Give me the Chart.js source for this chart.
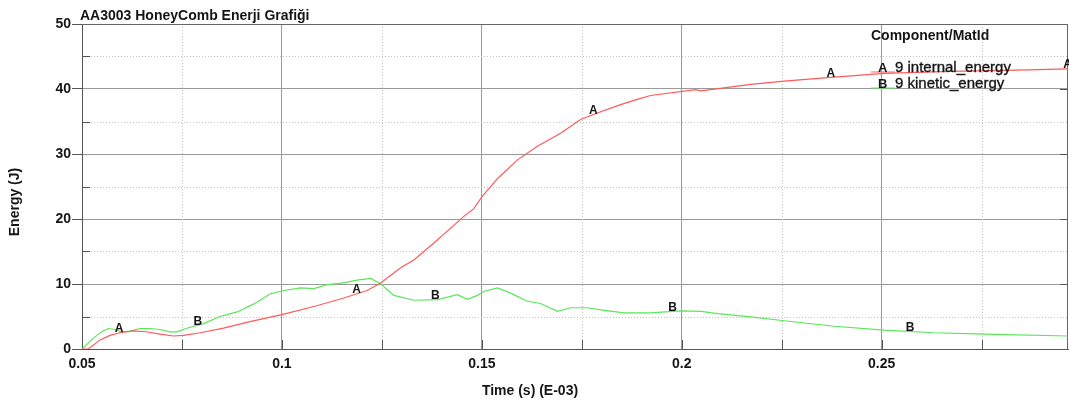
<!DOCTYPE html>
<html><head><meta charset="utf-8">
<script src="https://cdn.jsdelivr.net/npm/chart.js@4/dist/chart.umd.min.js"></script>
<style>html,body{margin:0;padding:0;background:#fff;overflow:hidden;}</style>
</head><body>
<canvas id="c" width="1069" height="401"></canvas>
<script>
// ---------- data ----------
const TITLE = "AA3003 HoneyComb Enerji Grafiği";
const X_TITLE = "Time (s) (E-03)";
const Y_TITLE = "Energy (J)";
const LEGEND_HEADER = "Component/MatId";
const SERIES_NAMES = ["9 internal_energy", "9 kinetic_energy"];
const SERIES_LETTERS = ["A", "B"];

const X_TICKS = [0.05, 0.1, 0.15, 0.2, 0.25];
const X_MINOR = [0.075, 0.125, 0.175, 0.225, 0.275];
const Y_TICKS = [0, 10, 20, 30, 40, 50];
const Y_MINOR = [5, 15, 25, 35, 45];

const INTERNAL_X = [0.05, 0.0516, 0.0545, 0.057, 0.0595, 0.0629, 0.066, 0.0695, 0.0729, 0.0754, 0.0796, 0.0854, 0.092, 0.1, 0.1087, 0.1155, 0.1213, 0.1247, 0.1297, 0.133, 0.138, 0.1422, 0.1455, 0.148, 0.1501, 0.1539, 0.1589, 0.1639, 0.1697, 0.1747, 0.1789, 0.1847, 0.1889, 0.1922, 0.2035, 0.2048, 0.2173, 0.2256, 0.2373, 0.2506, 0.2673, 0.284, 0.2966];
const INTERNAL_Y = [0, 0, 1.4, 2.1, 2.5, 2.8, 2.65, 2.3, 2.0, 2.1, 2.5, 3.2, 4.2, 5.3, 6.65, 7.85, 9.0, 10.15, 12.5, 13.7, 16.3, 18.6, 20.4, 21.6, 23.5, 26.2, 29.1, 31.2, 33.2, 35.3, 36.3, 37.6, 38.4, 39.0, 39.9, 39.7, 40.7, 41.2, 41.8, 42.4, 42.7, 42.9, 43.1];

const KINETIC_X = [0.05, 0.0524, 0.0537, 0.0553, 0.0566, 0.0583, 0.0599, 0.062, 0.0645, 0.067, 0.0695, 0.072, 0.0737, 0.076, 0.0804, 0.0845, 0.0888, 0.0929, 0.0971, 0.1005, 0.1046, 0.108, 0.1113, 0.1146, 0.1188, 0.1222, 0.1247, 0.128, 0.133, 0.1389, 0.1439, 0.1464, 0.1489, 0.1505, 0.1539, 0.1572, 0.1614, 0.1647, 0.1689, 0.1722, 0.1764, 0.1806, 0.1856, 0.1922, 0.1997, 0.2048, 0.209, 0.2173, 0.2256, 0.2382, 0.2506, 0.2631, 0.2757, 0.2966];
const KINETIC_Y = [0, 1.4, 2.1, 2.8, 3.15, 3.0, 2.65, 2.75, 3.15, 3.15, 3.0, 2.65, 2.65, 3.15, 3.9, 5.0, 5.7, 6.9, 8.5, 9.0, 9.4, 9.3, 9.9, 10.1, 10.6, 10.85, 10.0, 8.25, 7.5, 7.6, 8.35, 7.65, 8.25, 8.85, 9.4, 8.6, 7.35, 7.0, 5.8, 6.35, 6.35, 5.95, 5.55, 5.55, 5.85, 5.8, 5.45, 4.95, 4.35, 3.5, 2.9, 2.5, 2.3, 2.0];

const LABEL_X_A = [0.0593, 0.1187, 0.1779, 0.2373, 0.2965];
const LABEL_X_B = [0.079, 0.1384, 0.1977, 0.2571];

// ---------- style ----------
const COLORS = ["#ff5a5a", "#5ae65a"];
const FONT = '"Liberation Sans", Arial, sans-serif';
const TEXT = "#151515";

function pts(xs, ys) { return xs.map((x, i) => ({ x: x, y: ys[i] })); }
function interp(xs, ys, x) {
  for (let i = 1; i < xs.length; i++) {
    if (x <= xs[i]) { const t = (x - xs[i-1]) / (xs[i] - xs[i-1]); return ys[i-1] + t * (ys[i] - ys[i-1]); }
  }
  return ys[ys.length - 1];
}
function fmt(v) { return String(parseFloat(v.toFixed(4))); }

const deco = {
  id: 'deco',
  beforeDatasetsDraw(chart) {
    const ctx = chart.ctx, a = chart.chartArea, xs = chart.scales.x, ys = chart.scales.y;
    ctx.save();
    ctx.strokeStyle = "#c4c4c4"; ctx.lineWidth = 1; ctx.setLineDash([1, 2]);
    X_MINOR.forEach(v => { const p = Math.round(xs.getPixelForValue(v)) + 0.5; ctx.beginPath(); ctx.moveTo(p, a.top); ctx.lineTo(p, a.bottom); ctx.stroke(); });
    Y_MINOR.forEach(v => { const p = Math.round(ys.getPixelForValue(v)) + 0.5; ctx.beginPath(); ctx.moveTo(a.left, p); ctx.lineTo(a.right, p); ctx.stroke(); });
    ctx.setLineDash([]);
    ctx.strokeStyle = "#555";
    X_TICKS.concat(X_MINOR).forEach(v => { const p = Math.round(xs.getPixelForValue(v)) + 0.5; ctx.beginPath(); ctx.moveTo(p, a.bottom); ctx.lineTo(p, a.bottom - 9); ctx.stroke(); });
    Y_MINOR.forEach(v => { const p = Math.round(ys.getPixelForValue(v)) + 0.5; ctx.beginPath(); ctx.moveTo(a.left, p); ctx.lineTo(a.left + 8, p); ctx.stroke(); });
    Y_TICKS.forEach(v => { const p = Math.round(ys.getPixelForValue(v)) + 0.5; ctx.beginPath(); ctx.moveTo(a.right, p); ctx.lineTo(a.right - 8, p); ctx.stroke(); });
    ctx.strokeStyle = "#666";
    ctx.beginPath(); ctx.moveTo(a.left, Math.round(a.top) + 0.5); ctx.lineTo(a.right, Math.round(a.top) + 0.5); ctx.stroke();
    ctx.beginPath(); ctx.moveTo(Math.round(a.right) - 0.5, a.top); ctx.lineTo(Math.round(a.right) - 0.5, a.bottom); ctx.stroke();
    ctx.restore();
  },
  afterDatasetsDraw(chart) {
    const ctx = chart.ctx, xs = chart.scales.x, ys = chart.scales.y;
    ctx.save();
    ctx.fillStyle = TEXT;
    ctx.font = "bold 12px " + FONT; ctx.textAlign = "center"; ctx.textBaseline = "middle";
    const sets = [[LABEL_X_A, INTERNAL_X, INTERNAL_Y, "A"], [LABEL_X_B, KINETIC_X, KINETIC_Y, "B"]];
    sets.forEach(([lx, sx, sy, letter]) => {
      lx.forEach(x => {
        const px = xs.getPixelForValue(x), py = ys.getPixelForValue(interp(sx, sy, x));
        ctx.fillText(letter, px, py - 4);
      });
    });
    ctx.textAlign = "left"; ctx.textBaseline = "alphabetic";
    ctx.font = "bold 14px " + FONT;
    ctx.fillText(TITLE, 80, 19.5);
    ctx.fillText(LEGEND_HEADER, 871, 40);
    ctx.lineWidth = 1;
    const ly = [71.5, 87.5];
    for (let i = 0; i < 2; i++) {
      ctx.strokeStyle = COLORS[i];
      ctx.beginPath(); ctx.moveTo(871, ly[i] + 0.5); ctx.lineTo(895, ly[i] + 0.5); ctx.stroke();
      ctx.font = "bold 13px " + FONT; ctx.fillText(SERIES_LETTERS[i], 878, ly[i]);
      ctx.font = "15px " + FONT; ctx.fillText(SERIES_NAMES[i], 895, ly[i]);
      ctx.strokeStyle = TEXT; ctx.lineWidth = 0.35; ctx.strokeText(SERIES_NAMES[i], 895, ly[i]); ctx.lineWidth = 1;
    }
    ctx.font = "bold 14px " + FONT; ctx.textAlign = "center"; ctx.textBaseline = "middle";
    ctx.fillText(X_TITLE, 530, 391);
    ctx.translate(15, 202); ctx.rotate(-Math.PI / 2); ctx.fillText(Y_TITLE, 0, 0);
    ctx.restore();
  }
};

new Chart(document.getElementById('c'), {
  type: 'line',
  data: {
    datasets: [
      { label: SERIES_NAMES[0], data: pts(INTERNAL_X, INTERNAL_Y), borderColor: COLORS[0], borderWidth: 1.2, pointRadius: 0, tension: 0, fill: false },
      { label: SERIES_NAMES[1], data: pts(KINETIC_X, KINETIC_Y), borderColor: COLORS[1], borderWidth: 1.2, pointRadius: 0, tension: 0, fill: false }
    ]
  },
  options: {
    responsive: false, animation: false, devicePixelRatio: 1,
    layout: { padding: { top: 24, right: 1, left: 0, bottom: 0 } },
    plugins: { legend: { display: false }, title: { display: false }, tooltip: { enabled: false } },
    scales: {
      x: {
        type: 'linear', min: 0.05, max: 0.2966,
        afterBuildTicks: s => { s.ticks = X_TICKS.map(v => ({ value: v })); },
        afterFit: s => { s.height = 52; },
        grid: { color: "#9a9a9a", lineWidth: 1, drawTicks: false },
        border: { color: "#555", width: 1 },
        ticks: { padding: 7, color: TEXT, font: { family: FONT, size: 14, weight: 'bold' }, callback: v => fmt(v), maxRotation: 0 }
      },
      y: {
        type: 'linear', min: 0, max: 50,
        afterBuildTicks: s => { s.ticks = Y_TICKS.map(v => ({ value: v })); },
        afterFit: s => { s.width = 82; },
        grid: { color: "#9a9a9a", lineWidth: 1, drawTicks: true, tickLength: 10, tickColor: "#555" },
        border: { color: "#555", width: 1 },
        ticks: { padding: 1, color: TEXT, font: { family: FONT, size: 14, weight: 'bold' }, callback: v => String(v) }
      }
    }
  },
  plugins: [deco]
});
</script>
</body></html>
